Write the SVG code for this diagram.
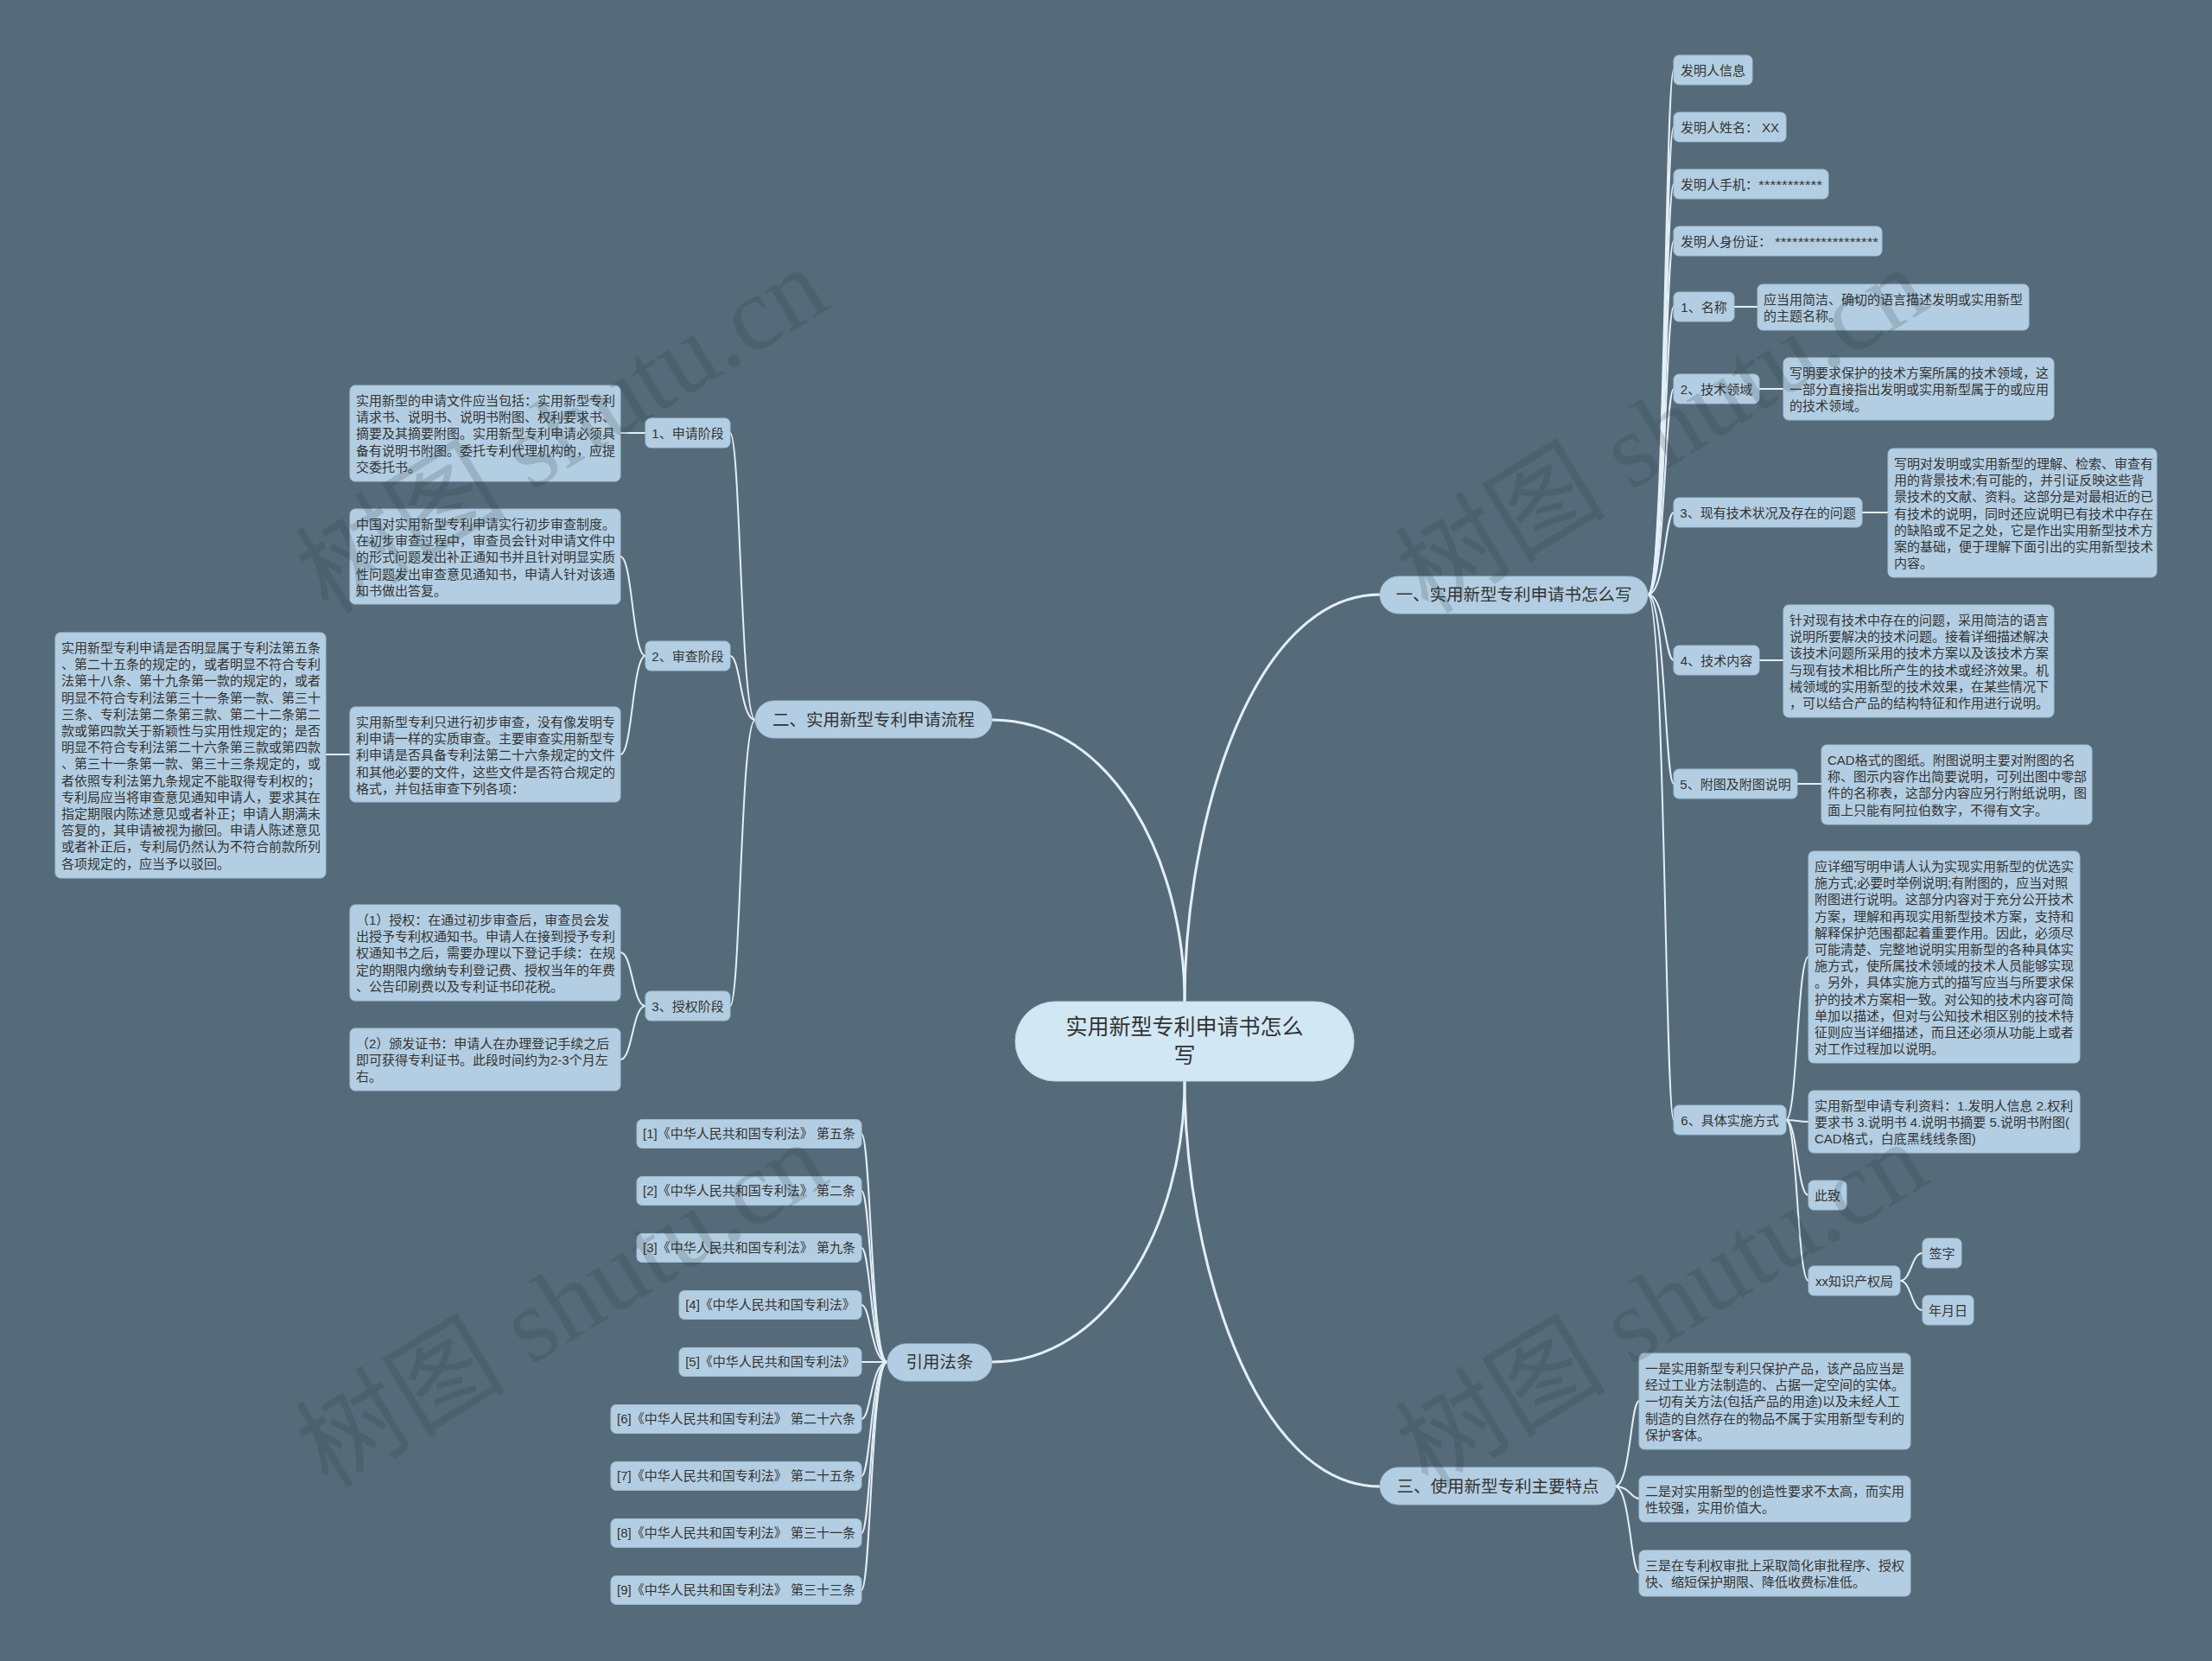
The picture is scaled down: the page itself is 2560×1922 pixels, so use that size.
<svg xmlns="http://www.w3.org/2000/svg" width="2560" height="1922" viewBox="0 0 2560 1922">
<style>
.bg{fill:#566b7a}
.n{fill:#b3cee2;stroke:#a2c0d5;stroke-width:1}
.b{fill:#b3cee2;stroke:#a2c0d5;stroke-width:1}
.root{fill:#d2e7f4;stroke:#bcd6e8;stroke-width:1}
.t{font-family:"Liberation Sans","Noto Sans CJK SC",sans-serif;font-size:15px;fill:#333}
.tm{text-anchor:middle}
.tb{font-family:"Liberation Sans","Noto Sans CJK SC",sans-serif;font-size:19.5px;fill:#333;text-anchor:middle}
.tr{font-family:"Liberation Sans","Noto Sans CJK SC",sans-serif;font-size:25px;fill:#333;text-anchor:middle}
.c{fill:none;stroke:#e4eff6;stroke-width:2}
.cm{fill:none;stroke:#e4eff6;stroke-width:3}
.wm{font-family:"Liberation Serif","Noto Sans CJK SC",serif;font-size:122px;fill:#1f2d38;fill-opacity:0.17}
</style>
<rect class="bg" x="0" y="0" width="2560" height="1922"/>

<g id="connectors">
<path class="cm" d="M1371,1159 C1371,950 1450,688 1597,688"/>
<path class="cm" d="M1371,1159 C1371,1000 1290,833 1148,833"/>
<path class="cm" d="M1371,1251 C1371,1420 1280,1576 1148,1576"/>
<path class="cm" d="M1371,1251 C1371,1450 1450,1720 1597,1720"/>
<path class="c" d="M874,833 C857,833 857,501 845,501"/>
<path class="c" d="M874,833 C857,833 857,759 845,759"/>
<path class="c" d="M874,833 C857,833 857,1164 845,1164"/>
<path class="c" d="M747,501 H718"/>
<path class="c" d="M747,759 C732,759 732,644 718,644"/>
<path class="c" d="M747,759 C732,759 732,873 718,873"/>
<path class="c" d="M747,1164 C732,1164 732,1102 718,1102"/>
<path class="c" d="M747,1164 C732,1164 732,1226 718,1226"/>
<path class="c" d="M405,873 H377"/>
<path class="c" d="M1027,1576 C1008,1576 1008,1312 997,1312"/>
<path class="c" d="M1027,1576 C1008,1576 1008,1378 997,1378"/>
<path class="c" d="M1027,1576 C1008,1576 1008,1444 997,1444"/>
<path class="c" d="M1027,1576 C1008,1576 1008,1510 997,1510"/>
<path class="c" d="M1027,1576 H997"/>
<path class="c" d="M1027,1576 C1008,1576 1008,1642 997,1642"/>
<path class="c" d="M1027,1576 C1008,1576 1008,1708 997,1708"/>
<path class="c" d="M1027,1576 C1008,1576 1008,1774 997,1774"/>
<path class="c" d="M1027,1576 C1008,1576 1008,1840 997,1840"/>
<path class="c" d="M1907,688 C1927,688 1927,81 1937,81"/>
<path class="c" d="M1907,688 C1927,688 1927,147 1937,147"/>
<path class="c" d="M1907,688 C1927,688 1927,213 1937,213"/>
<path class="c" d="M1907,688 C1927,688 1927,279 1937,279"/>
<path class="c" d="M1907,688 C1927,688 1927,355 1937,355"/>
<path class="c" d="M1907,688 C1927,688 1927,450 1937,450"/>
<path class="c" d="M1907,688 C1927,688 1927,593 1937,593"/>
<path class="c" d="M1907,688 C1927,688 1927,764 1937,764"/>
<path class="c" d="M1907,688 C1927,688 1927,907 1937,907"/>
<path class="c" d="M1907,688 C1927,688 1927,1296 1937,1296"/>
<path class="c" d="M2007,355 H2034"/>
<path class="c" d="M2036,450 H2064"/>
<path class="c" d="M2155,593 H2185"/>
<path class="c" d="M2036,764 H2064"/>
<path class="c" d="M2080,907 H2108"/>
<path class="c" d="M2067,1296 C2080,1296 2080,1107 2093,1107"/>
<path class="c" d="M2067,1296 C2080,1296 2080,1298 2093,1298"/>
<path class="c" d="M2067,1296 C2080,1296 2080,1383 2093,1383"/>
<path class="c" d="M2067,1296 C2080,1296 2080,1482 2093,1482"/>
<path class="c" d="M2199,1482 C2212,1482 2212,1450 2225,1450"/>
<path class="c" d="M2199,1482 C2212,1482 2212,1516 2225,1516"/>
<path class="c" d="M1869,1720 C1887,1720 1887,1621 1897,1621"/>
<path class="c" d="M1869,1720 C1887,1720 1887,1734 1897,1734"/>
<path class="c" d="M1869,1720 C1887,1720 1887,1820 1897,1820"/>
</g>

<g id="root">
<rect class="root" x="1175" y="1159" width="392" height="92" rx="46"/>
<text class="tr" x="1371" y="1197">实用新型专利申请书怎么</text>
<text class="tr" x="1371" y="1230">写</text>
</g>

<g id="b1"><rect class="b" x="1597" y="667" width="310" height="43" rx="21.5"/><text class="tb" x="1752" y="695">一、实用新型专利申请书怎么写</text></g>
<g id="b2"><rect class="b" x="874" y="811" width="274" height="43" rx="21.5"/><text class="tb" x="1011" y="840">二、实用新型专利申请流程</text></g>
<g id="b3"><rect class="b" x="1027" y="1555" width="121" height="43" rx="21.5"/><text class="tb" x="1087.5" y="1583">引用法条</text></g>
<g id="b4"><rect class="b" x="1597" y="1698" width="273" height="43" rx="21.5"/><text class="tb" x="1733.5" y="1727">三、使用新型专利主要特点</text></g>

<g id="s1"><rect class="n" x="747" y="484" width="98" height="34" rx="6"/><text class="t tm" x="796" y="506.5">1、申请阶段</text></g>
<g id="s2"><rect class="n" x="747" y="742" width="98" height="34" rx="6"/><text class="t tm" x="796" y="764.5">2、审查阶段</text></g>
<g id="s3"><rect class="n" x="747" y="1147" width="98" height="34" rx="6"/><text class="t tm" x="796" y="1169.5">3、授权阶段</text></g>

<g id="d1"><rect class="n" x="405" y="446" width="313" height="111" rx="6"/>
<text class="t" x="412" y="469"><tspan x="412">实用新型的申请文件应当包括：实用新型专利</tspan><tspan x="412" dy="19.2">请求书、说明书、说明书附图、权利要求书、</tspan><tspan x="412" dy="19.2">摘要及其摘要附图。实用新型专利申请必须具</tspan><tspan x="412" dy="19.2">备有说明书附图。委托专利代理机构的，应提</tspan><tspan x="412" dy="19.2">交委托书。</tspan></text></g>

<g id="d2"><rect class="n" x="405" y="589" width="313" height="110" rx="6"/>
<text class="t" x="412" y="612"><tspan x="412">中国对实用新型专利申请实行初步审查制度。</tspan><tspan x="412" dy="19.2">在初步审查过程中，审查员会针对申请文件中</tspan><tspan x="412" dy="19.2">的形式问题发出补正通知书并且针对明显实质</tspan><tspan x="412" dy="19.2">性问题发出审查意见通知书，申请人针对该通</tspan><tspan x="412" dy="19.2">知书做出答复。</tspan></text></g>

<g id="d3"><rect class="n" x="405" y="818" width="313" height="110" rx="6"/>
<text class="t" x="412" y="841"><tspan x="412">实用新型专利只进行初步审查，没有像发明专</tspan><tspan x="412" dy="19.2">利申请一样的实质审查。主要审查实用新型专</tspan><tspan x="412" dy="19.2">利申请是否具备专利法第二十六条规定的文件</tspan><tspan x="412" dy="19.2">和其他必要的文件，这些文件是否符合规定的</tspan><tspan x="412" dy="19.2">格式，并包括审查下列各项：</tspan></text></g>

<g id="d4"><rect class="n" x="64" y="732" width="313" height="284" rx="6"/>
<text class="t" x="71" y="755"><tspan x="71">实用新型专利申请是否明显属于专利法第五条</tspan><tspan x="71" dy="19.2">、第二十五条的规定的，或者明显不符合专利</tspan><tspan x="71" dy="19.2">法第十八条、第十九条第一款的规定的，或者</tspan><tspan x="71" dy="19.2">明显不符合专利法第三十一条第一款、第三十</tspan><tspan x="71" dy="19.2">三条、专利法第二条第三款、第二十二条第二</tspan><tspan x="71" dy="19.2">款或第四款关于新颖性与实用性规定的；是否</tspan><tspan x="71" dy="19.2">明显不符合专利法第二十六条第三款或第四款</tspan><tspan x="71" dy="19.2">、第三十一条第一款、第三十三条规定的，或</tspan><tspan x="71" dy="19.2">者依照专利法第九条规定不能取得专利权的；</tspan><tspan x="71" dy="19.2">专利局应当将审查意见通知申请人，要求其在</tspan><tspan x="71" dy="19.2">指定期限内陈述意见或者补正；申请人期满未</tspan><tspan x="71" dy="19.2">答复的，其申请被视为撤回。申请人陈述意见</tspan><tspan x="71" dy="19.2">或者补正后，专利局仍然认为不符合前款所列</tspan><tspan x="71" dy="19.2">各项规定的，应当予以驳回。</tspan></text></g>

<g id="d5"><rect class="n" x="405" y="1047" width="313" height="111" rx="6"/>
<text class="t" x="412" y="1070"><tspan x="412">（1）授权：在通过初步审查后，审查员会发</tspan><tspan x="412" dy="19.2">出授予专利权通知书。申请人在接到授予专利</tspan><tspan x="412" dy="19.2">权通知书之后，需要办理以下登记手续：在规</tspan><tspan x="412" dy="19.2">定的期限内缴纳专利登记费、授权当年的年费</tspan><tspan x="412" dy="19.2">、公告印刷费以及专利证书印花税。</tspan></text></g>

<g id="d6"><rect class="n" x="405" y="1190" width="313" height="72" rx="6"/>
<text class="t" x="412" y="1213"><tspan x="412">（2）颁发证书：申请人在办理登记手续之后</tspan><tspan x="412" dy="19.2">即可获得专利证书。此段时间约为2-3个月左</tspan><tspan x="412" dy="19.2">右。</tspan></text></g>

<g id="law1"><rect class="n" x="737" y="1295.5" width="260" height="33" rx="6"/><text class="t tm" x="867" y="1317">[1]《中华人民共和国专利法》 第五条</text></g>
<g id="law2"><rect class="n" x="737" y="1361.5" width="260" height="33" rx="6"/><text class="t tm" x="867" y="1383">[2]《中华人民共和国专利法》 第二条</text></g>
<g id="law3"><rect class="n" x="737" y="1427.5" width="260" height="33" rx="6"/><text class="t tm" x="867" y="1449">[3]《中华人民共和国专利法》 第九条</text></g>
<g id="law4"><rect class="n" x="786" y="1493.5" width="211" height="33" rx="6"/><text class="t tm" x="891.5" y="1515">[4]《中华人民共和国专利法》</text></g>
<g id="law5"><rect class="n" x="786" y="1559.5" width="211" height="33" rx="6"/><text class="t tm" x="891.5" y="1581">[5]《中华人民共和国专利法》</text></g>
<g id="law6"><rect class="n" x="707" y="1625.5" width="290" height="33" rx="6"/><text class="t tm" x="852" y="1647">[6]《中华人民共和国专利法》 第二十六条</text></g>
<g id="law7"><rect class="n" x="707" y="1691.5" width="290" height="33" rx="6"/><text class="t tm" x="852" y="1713">[7]《中华人民共和国专利法》 第二十五条</text></g>
<g id="law8"><rect class="n" x="707" y="1757.5" width="290" height="33" rx="6"/><text class="t tm" x="852" y="1779">[8]《中华人民共和国专利法》 第三十一条</text></g>
<g id="law9"><rect class="n" x="707" y="1823.5" width="290" height="33" rx="6"/><text class="t tm" x="852" y="1845">[9]《中华人民共和国专利法》 第三十三条</text></g>

<g id="r1"><rect class="n" x="1937" y="64" width="91" height="34" rx="6"/><text class="t tm" x="1982.5" y="86.5">发明人信息</text></g>
<g id="r2"><rect class="n" x="1937" y="130" width="130" height="34" rx="6"/><text class="t tm" x="2002" y="152.5">发明人姓名： XX</text></g>
<g id="r3"><rect class="n" x="1937" y="196" width="179" height="34" rx="6"/><text class="t" x="1945" y="218.5">发明人手机：<tspan textLength="74" lengthAdjust="spacingAndGlyphs">***********</tspan></text></g>
<g id="r4"><rect class="n" x="1937" y="262" width="241" height="34" rx="6"/><text class="t" x="1945" y="284.5">发明人身份证：<tspan dx="4" textLength="120" lengthAdjust="spacingAndGlyphs">******************</tspan></text></g>
<g id="r5"><rect class="n" x="1937" y="338" width="70" height="34" rx="6"/><text class="t tm" x="1972" y="360.5">1、名称</text></g>
<g id="r6"><rect class="n" x="1937" y="433" width="99" height="34" rx="6"/><text class="t tm" x="1986.5" y="455.5">2、技术领域</text></g>
<g id="r7"><rect class="n" x="1937" y="576" width="218" height="34" rx="6"/><text class="t tm" x="2046" y="598.5">3、现有技术状况及存在的问题</text></g>
<g id="r8"><rect class="n" x="1937" y="747" width="99" height="34" rx="6"/><text class="t tm" x="1986.5" y="769.5">4、技术内容</text></g>
<g id="r9"><rect class="n" x="1937" y="890" width="143" height="34" rx="6"/><text class="t tm" x="2008.5" y="912.5">5、附图及附图说明</text></g>
<g id="r10"><rect class="n" x="1937" y="1279" width="130" height="34" rx="6"/><text class="t tm" x="2002" y="1301.5">6、具体实施方式</text></g>

<g id="r5c"><rect class="n" x="2034" y="329" width="314" height="53" rx="6"/>
<text class="t" x="2041" y="352"><tspan x="2041">应当用简洁、确切的语言描述发明或实用新型</tspan><tspan x="2041" dy="19.2">的主题名称。</tspan></text></g>

<g id="r6c"><rect class="n" x="2064" y="414" width="313" height="72" rx="6"/>
<text class="t" x="2071" y="437"><tspan x="2071">写明要求保护的技术方案所属的技术领域，这</tspan><tspan x="2071" dy="19.2">一部分直接指出发明或实用新型属于的或应用</tspan><tspan x="2071" dy="19.2">的技术领域。</tspan></text></g>

<g id="r7c"><rect class="n" x="2185" y="519" width="311" height="149" rx="6"/>
<text class="t" x="2192" y="542"><tspan x="2192">写明对发明或实用新型的理解、检索、审查有</tspan><tspan x="2192" dy="19.2">用的背景技术;有可能的，并引证反映这些背</tspan><tspan x="2192" dy="19.2">景技术的文献、资料。这部分是对最相近的已</tspan><tspan x="2192" dy="19.2">有技术的说明，同时还应说明已有技术中存在</tspan><tspan x="2192" dy="19.2">的缺陷或不足之处，它是作出实用新型技术方</tspan><tspan x="2192" dy="19.2">案的基础，便于理解下面引出的实用新型技术</tspan><tspan x="2192" dy="19.2">内容。</tspan></text></g>

<g id="r8c"><rect class="n" x="2064" y="700" width="313" height="130" rx="6"/>
<text class="t" x="2071" y="723"><tspan x="2071">针对现有技术中存在的问题，采用简洁的语言</tspan><tspan x="2071" dy="19.2">说明所要解决的技术问题。接着详细描述解决</tspan><tspan x="2071" dy="19.2">该技术问题所采用的技术方案以及该技术方案</tspan><tspan x="2071" dy="19.2">与现有技术相比所产生的技术或经济效果。机</tspan><tspan x="2071" dy="19.2">械领域的实用新型的技术效果，在某些情况下</tspan><tspan x="2071" dy="19.2">，可以结合产品的结构特征和作用进行说明。</tspan></text></g>

<g id="r9c"><rect class="n" x="2108" y="862" width="313" height="92" rx="6"/>
<text class="t" x="2115" y="885"><tspan x="2115">CAD格式的图纸。附图说明主要对附图的名</tspan><tspan x="2115" dy="19.2">称、图示内容作出简要说明，可列出图中零部</tspan><tspan x="2115" dy="19.2">件的名称表，这部分内容应另行附纸说明，图</tspan><tspan x="2115" dy="19.2">面上只能有阿拉伯数字，不得有文字。</tspan></text></g>

<g id="r10a"><rect class="n" x="2093" y="985" width="314" height="245" rx="6"/>
<text class="t" x="2100" y="1008"><tspan x="2100">应详细写明申请人认为实现实用新型的优选实</tspan><tspan x="2100" dy="19.2">施方式;必要时举例说明;有附图的，应当对照</tspan><tspan x="2100" dy="19.2">附图进行说明。这部分内容对于充分公开技术</tspan><tspan x="2100" dy="19.2">方案，理解和再现实用新型技术方案，支持和</tspan><tspan x="2100" dy="19.2">解释保护范围都起着重要作用。因此，必须尽</tspan><tspan x="2100" dy="19.2">可能清楚、完整地说明实用新型的各种具体实</tspan><tspan x="2100" dy="19.2">施方式，使所属技术领域的技术人员能够实现</tspan><tspan x="2100" dy="19.2">。另外，具体实施方式的描写应当与所要求保</tspan><tspan x="2100" dy="19.2">护的技术方案相一致。对公知的技术内容可简</tspan><tspan x="2100" dy="19.2">单加以描述，但对与公知技术相区别的技术特</tspan><tspan x="2100" dy="19.2">征则应当详细描述，而且还必须从功能上或者</tspan><tspan x="2100" dy="19.2">对工作过程加以说明。</tspan></text></g>

<g id="r10b"><rect class="n" x="2093" y="1262" width="314" height="72" rx="6"/>
<text class="t" x="2100" y="1285"><tspan x="2100">实用新型申请专利资料：1.发明人信息 2.权利</tspan><tspan x="2100" dy="19.2">要求书 3.说明书 4.说明书摘要 5.说明书附图(</tspan><tspan x="2100" dy="19.2">CAD格式，白底黑线线条图)</tspan></text></g>

<g id="r10c"><rect class="n" x="2093" y="1366" width="44" height="34" rx="6"/><text class="t tm" x="2115" y="1388.5">此致</text></g>
<g id="r10d"><rect class="n" x="2093" y="1465" width="106" height="34" rx="6"/><text class="t tm" x="2146" y="1487.5">xx知识产权局</text></g>
<g id="r10d1"><rect class="n" x="2225" y="1433" width="45" height="34" rx="6"/><text class="t tm" x="2247.5" y="1455.5">签字</text></g>
<g id="r10d2"><rect class="n" x="2225" y="1499" width="59" height="34" rx="6"/><text class="t tm" x="2254.5" y="1521.5">年月日</text></g>

<g id="f1"><rect class="n" x="1897" y="1566" width="314" height="111" rx="6"/>
<text class="t" x="1904" y="1589"><tspan x="1904">一是实用新型专利只保护产品，该产品应当是</tspan><tspan x="1904" dy="19.2">经过工业方法制造的、占据一定空间的实体。</tspan><tspan x="1904" dy="19.2">一切有关方法(包括产品的用途)以及未经人工</tspan><tspan x="1904" dy="19.2">制造的自然存在的物品不属于实用新型专利的</tspan><tspan x="1904" dy="19.2">保护客体。</tspan></text></g>
<g id="f2"><rect class="n" x="1897" y="1708" width="314" height="53" rx="6"/>
<text class="t" x="1904" y="1731"><tspan x="1904">二是对实用新型的创造性要求不太高，而实用</tspan><tspan x="1904" dy="19.2">性较强，实用价值大。</tspan></text></g>
<g id="f3"><rect class="n" x="1897" y="1794" width="314" height="53" rx="6"/>
<text class="t" x="1904" y="1817"><tspan x="1904">三是在专利权审批上采取简化审批程序、授权</tspan><tspan x="1904" dy="19.2">快、缩短保护期限、降低收费标准低。</tspan></text></g>

<g id="watermark">
<text class="wm" transform="translate(380,712) rotate(-31.5)">树图 shutu.cn</text>
<text class="wm" transform="translate(1653,712) rotate(-31.5)">树图 shutu.cn</text>
<text class="wm" transform="translate(380,1724) rotate(-31.5)">树图 shutu.cn</text>
<text class="wm" transform="translate(1653,1724) rotate(-31.5)">树图 shutu.cn</text>
</g>
</svg>
